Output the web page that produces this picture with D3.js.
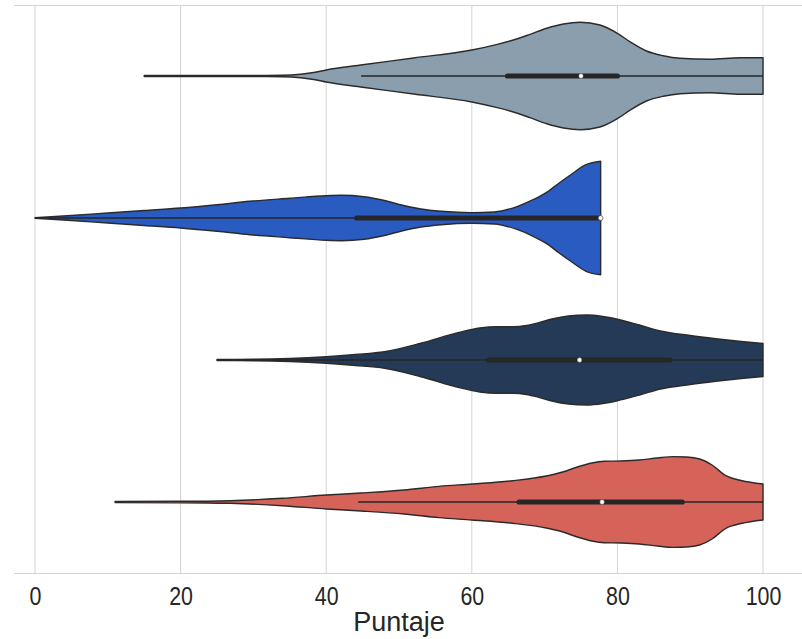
<!DOCTYPE html>
<html>
<head>
<meta charset="utf-8">
<script src="https://cdn.jsdelivr.net/npm/d3@7"></script>
<style>
  html, body { margin: 0; padding: 0; background: #ffffff; }
  svg { display: block; }
</style>
</head>
<body>
<svg id="chart" width="802" height="639"></svg>
<script>
// ---- data ----
const categories = ["Grupo 1", "Grupo 2", "Grupo 3", "Grupo 4"];
const colors = ["#8a9eae", "#2a5bc0", "#243a56", "#d6635a"];
const xTicks = [0, 20, 40, 60, 80, 100];
const xLabel = "Puntaje";

// density profiles: [score, relative density]
const density1 = [[15,0.01],[30,0.01],[34,0.012],[36.5,0.03],[38.5,0.065],[40,0.106],[45,0.197],[52,0.317],[60,0.458],[63.5,0.558],[65.7,0.634],[68,0.734],[70.3,0.84],[72.6,0.915],[74.9,0.945],[77.6,0.898],[80,0.752],[81.7,0.604],[84,0.44],[86.3,0.357],[88.6,0.312],[92.7,0.294],[96.8,0.322],[100,0.322]];
const density2 = [[0,0.005],[5,0.044],[10,0.088],[15,0.132],[20,0.176],[25,0.234],[29.5,0.294],[35,0.347],[40,0.393],[42.1,0.4],[45.2,0.375],[48,0.308],[50.5,0.224],[53,0.158],[55.8,0.118],[60,0.093],[63.1,0.106],[66.3,0.206],[68.5,0.326],[70.5,0.47],[72,0.616],[73.6,0.762],[75.7,0.938],[77.7,0.998]];
const density3 = [[25,0.01],[30,0.012],[35,0.026],[40,0.058],[44,0.097],[48,0.146],[53,0.294],[58.1,0.481],[61.1,0.563],[63.5,0.586],[65.7,0.586],[67.5,0.607],[69.2,0.657],[71,0.722],[73.3,0.775],[75.8,0.792],[78,0.766],[80,0.717],[83,0.616],[85.9,0.511],[90,0.431],[93.5,0.375],[97,0.326],[100,0.29]];
const density4 = [[11,0.01],[20,0.012],[26.8,0.023],[34,0.065],[40,0.123],[44.8,0.158],[50.7,0.211],[55.5,0.276],[60,0.317],[65.6,0.375],[70.4,0.463],[72.5,0.528],[74.6,0.621],[76.5,0.687],[78.2,0.717],[80.5,0.722],[83,0.739],[85.5,0.775],[87.7,0.798],[89.5,0.792],[91.3,0.757],[93,0.651],[94.9,0.463],[97,0.379],[100,0.317]];

// box stats: [whiskerLow, q1, median, q3, whiskerHigh]
const box1 = [44.8, 64.9, 75.0, 80.0, 100];
const box2 = [0, 44.2, 77.7, 77.7, 77.7];
const box3 = [25, 62.3, 74.8, 87.2, 100];
const box4 = [44.4, 66.5, 77.9, 88.9, 100];

const densities = [density1, density2, density3, density4];
const boxes = [box1, box2, box3, box4];

// ---- layout ----
const svg = d3.select("#chart");
const plot = { left: 14, right: 802, top: 5, bottom: 573 };

const x = d3.scaleLinear().domain([0, 100]).range([35, 763]);
const y = d3.scaleBand().domain(categories).range([plot.top, plot.bottom]).padding(0);
const w = d3.scaleLinear().domain([0, 1]).range([0, y.bandwidth() * 0.4]);

const gridColor = "#d4d4d4";
const darkGray = "#262626";
const fontFam = "'Liberation Sans', Arial, sans-serif";

// gridlines
svg.append("g").selectAll("line").data(xTicks).join("line")
  .attr("x1", d => x(d)).attr("x2", d => x(d))
  .attr("y1", plot.top).attr("y2", plot.bottom)
  .attr("stroke", gridColor).attr("stroke-width", 1);

// top / bottom spines
svg.append("line").attr("x1", plot.left).attr("x2", plot.right)
  .attr("y1", plot.top + 0.5).attr("y2", plot.top + 0.5)
  .attr("stroke", gridColor).attr("stroke-width", 1.2);
svg.append("line").attr("x1", plot.left).attr("x2", plot.right)
  .attr("y1", plot.bottom + 0.5).attr("y2", plot.bottom + 0.5)
  .attr("stroke", gridColor).attr("stroke-width", 1.2);

// violins
categories.forEach((cat, i) => {
  const cy = y(cat) + y.bandwidth() / 2;
  const area = d3.area()
    .x(d => x(d[0]))
    .y0(d => cy - w(d[1]))
    .y1(d => cy + w(d[1]))
    .curve(d3.curveMonotoneX);
  svg.append("path")
    .datum(densities[i])
    .attr("d", area)
    .attr("fill", colors[i])
    .attr("stroke", "#2b2b2b")
    .attr("stroke-width", 1.4)
    .attr("stroke-linejoin", "round");

  const b = boxes[i];
  svg.append("line")
    .attr("x1", x(b[0])).attr("x2", x(b[4]))
    .attr("y1", cy).attr("y2", cy)
    .attr("stroke", darkGray).attr("stroke-width", 1.6);
  svg.append("line")
    .attr("x1", x(b[1])).attr("x2", x(b[3]))
    .attr("y1", cy).attr("y2", cy)
    .attr("stroke", darkGray).attr("stroke-width", 5.2)
    .attr("stroke-linecap", "round");
  svg.append("circle")
    .attr("cx", x(b[2])).attr("cy", cy).attr("r", 2.2)
    .attr("fill", "#ffffff")
    .attr("stroke", "#888888").attr("stroke-width", 0.5);
});

// x axis
const axis = d3.axisBottom(x).tickValues(xTicks).tickSize(0).tickPadding(0);
const gx = svg.append("g").attr("transform", `translate(0,${plot.bottom})`).call(axis);
gx.select(".domain").remove();
gx.selectAll("text")
  .attr("y", 32).attr("dy", null)
  .attr("transform", "scale(0.84,1)")
  .attr("font-family", fontFam)
  .attr("font-size", 25.5)
  .attr("fill", darkGray);

svg.append("text")
  .attr("x", (plot.left + 784) / 2)
  .attr("y", 631)
  .attr("text-anchor", "middle")
  .attr("font-family", fontFam)
  .attr("font-size", 27)
  .attr("fill", darkGray)
  .text(xLabel);
</script>
</body>
</html>
